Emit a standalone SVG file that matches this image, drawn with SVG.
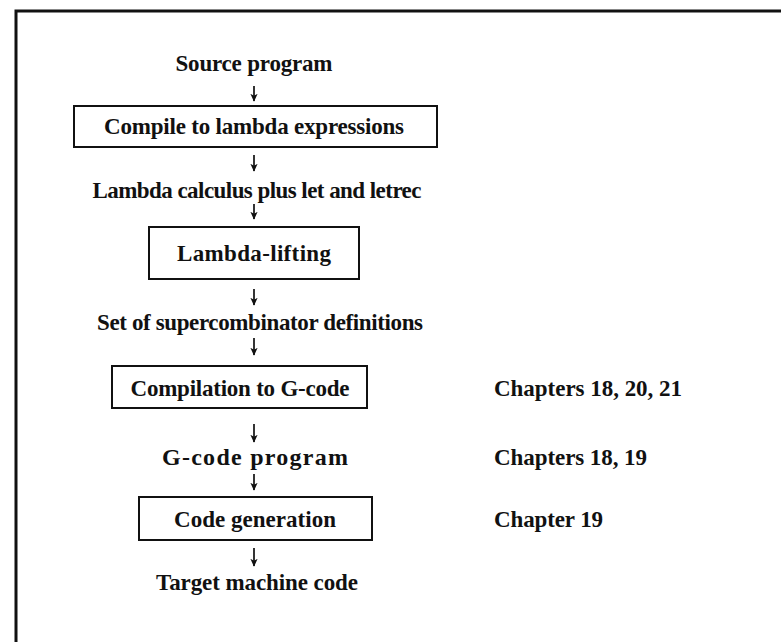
<svg xmlns="http://www.w3.org/2000/svg" width="781" height="642" viewBox="0 0 781 642">
<defs>
<style>
text{font-family:"Liberation Serif","Times New Roman",serif;font-weight:bold;font-size:23px;fill:#111;}
.c{text-anchor:middle;}
.box{fill:#fff;stroke:#111;stroke-width:2;}
.arr{stroke:#111;stroke-width:1.7;fill:none;marker-end:url(#ah);}
.frame{stroke:#111;stroke-width:3;fill:none;}
</style>
<marker id="ah" viewBox="0 0 10 10" refX="9" refY="5" markerWidth="8" markerHeight="8" markerUnits="userSpaceOnUse" orient="auto">
<path d="M0,0.5 L10,5 L0,9.5 L2.5,5 z" fill="#111"/>
</marker>
</defs>
<rect width="781" height="642" fill="#fff"/>
<path class="frame" d="M16,642 V11 H781"/>
<g id="connectors">
<line class="arr" x1="254" y1="86" x2="254" y2="101"/>
<line class="arr" x1="254" y1="155" x2="254" y2="171"/>
<line class="arr" x1="254" y1="204" x2="254" y2="219"/>
<line class="arr" x1="254" y1="289" x2="254" y2="305"/>
<line class="arr" x1="254" y1="338" x2="254" y2="355"/>
<line class="arr" x1="254" y1="424" x2="254" y2="442"/>
<line class="arr" x1="254" y1="474" x2="254" y2="490"/>
<line class="arr" x1="254" y1="548" x2="254" y2="566"/>
</g>
<g id="source"><text class="c" x="254" y="71" textLength="157">Source program</text></g>
<g id="compile"><rect class="box" x="74" y="106" width="363" height="41"/><text class="c" x="254" y="134" textLength="300">Compile to lambda expressions</text></g>
<g id="lambda-calculus"><text class="c" x="257" y="198" textLength="329">Lambda calculus plus let and letrec</text></g>
<g id="lifting"><rect class="box" x="149" y="227" width="210" height="52"/><text class="c" x="254" y="261" textLength="154">Lambda-lifting</text></g>
<g id="supercombinators"><text class="c" x="260" y="330" textLength="326">Set of supercombinator definitions</text></g>
<g id="compilation"><rect class="box" x="112" y="366" width="255" height="42"/><text class="c" x="240" y="396" textLength="219">Compilation to G-code</text></g>
<g id="ch1"><text x="494" y="396" textLength="188">Chapters 18, 20, 21</text></g>
<g id="gcode"><text class="c" x="255" y="465" style="font-size:24px" textLength="186">G-code program</text></g>
<g id="ch2"><text x="494" y="465" textLength="153">Chapters 18, 19</text></g>
<g id="codegen"><rect class="box" x="139" y="497" width="233" height="43"/><text class="c" x="255" y="527" textLength="162">Code generation</text></g>
<g id="ch3"><text x="494" y="527" textLength="109">Chapter 19</text></g>
<g id="target"><text class="c" x="257" y="590" textLength="202">Target machine code</text></g>
</svg>
